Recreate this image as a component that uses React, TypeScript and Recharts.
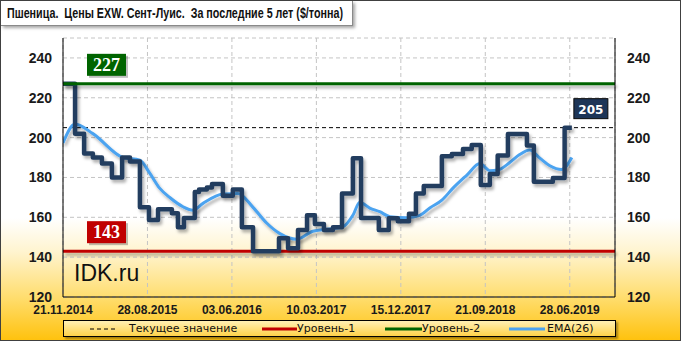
import { LineChart, Line, XAxis, YAxis, CartesianGrid, ReferenceLine, ReferenceDot } from "recharts";

// days since 21.11.2014
const xTicks = [0, 280, 560, 840, 1120, 1400, 1680];
const xLabels = ["21.11.2014", "28.08.2015", "03.06.2016", "10.03.2017", "15.12.2017", "21.09.2018", "28.06.2019"];
const yTicks = [120, 140, 160, 180, 200, 220, 240];

const priceDays = [0, 40, 70, 99, 129, 162, 196, 222, 255, 285, 315, 361, 381, 401, 437, 451, 477, 494, 530, 563, 593, 630, 716, 746, 779, 809, 835, 865, 895, 925, 961, 988, 1047, 1080, 1110, 1147, 1170, 1196, 1256, 1289, 1326, 1355, 1385, 1415, 1441, 1475, 1538, 1561, 1624, 1663, 1687];
const priceValues = [227, 202, 192, 190, 187, 180, 190, 188, 165, 158.6, 164, 162, 155, 159.6, 172.7, 174, 175, 176.7, 170.8, 174, 155, 143, 149.5, 144.5, 153.6, 161, 156.6, 153.6, 155, 172, 189.7, 159.6, 153.6, 159.5, 158, 161.8, 172, 175.7, 190.7, 191.8, 194.3, 196.3, 176.2, 181.7, 191, 201.8, 196, 177.8, 179.7, 205, 205];

const emaDays = [0, 40, 99, 199, 255, 288, 321, 355, 398, 431, 464, 530, 580, 630, 676, 719, 775, 828, 875, 928, 961, 984, 1017, 1050, 1084, 1140, 1183, 1216, 1256, 1292, 1339, 1382, 1415, 1441, 1481, 1514, 1547, 1581, 1614, 1653, 1687];
const emaValues = [197.3, 206.8, 202, 190, 188.7, 182, 174.5, 169.8, 165.3, 163.6, 167, 171.7, 172, 165, 157, 151.8, 149, 153, 154, 155.2, 161, 167.6, 164.6, 162.8, 160.3, 159.8, 161, 164.7, 168.6, 174.5, 181.2, 187, 183.4, 183.7, 187.5, 191.5, 193.8, 189.7, 185.9, 184, 190];

const current = 205;
const level1 = 143;
const level2 = 227;

const priceData = priceDays.map((d, i) => ({ d, v: priceValues[i] }));
const emaData = emaDays.map((d, i) => ({ d, v: emaValues[i] }));

const tickStyle = { fill: "#1a1a1a", fontSize: 14, fontWeight: 700, fontFamily: "Liberation Sans, Arial, sans-serif" };

const LevelBox = ({ viewBox, value, color }: any) => {
  if (!viewBox) return null;
  const x = viewBox.x + 24;
  const y = viewBox.y - 30;
  return (
    <g>
      <rect x={x + 2} y={y + 2} width={39} height={22} fill="rgba(0,0,0,0.25)" />
      <rect x={x} y={y} width={39} height={22} fill={color} />
      <text x={x + 19.5} y={y + 17} textAnchor="middle" fill="#fff" fontSize={18} fontWeight={700} fontFamily="Liberation Serif, Times New Roman, serif">
        {value}
      </text>
    </g>
  );
};

const CurrentBox = ({ cx, cy }: any) => {
  const x = cx + 2;
  const y = cy - 29;
  return (
    <g>
      <rect x={x} y={y} width={34} height={20} fill="#1d3557" stroke="#0a0a0a" strokeWidth={1} />
      <text x={x + 17} y={y + 15} textAnchor="middle" fill="#fff" fontSize={12} fontWeight={700} fontFamily="DejaVu Sans, Verdana, sans-serif">
        {current}
      </text>
    </g>
  );
};

export default function App() {
  return (
    <div
      style={{
        position: "absolute",
        left: 0,
        top: 0,
        width: 681,
        height: 341,
        boxSizing: "border-box",
        border: "1px solid #404040",
        background: "linear-gradient(to bottom, #ffffff 0%, #ffffff 64%, #fff4cf 74%, #ffdc6a 88%, #ffc20e 100%)",
        overflow: "hidden",
      }}
    >
      <div
        style={{
          position: "absolute",
          left: 0,
          top: 0,
          width: 351,
          height: 24,
          background: "#fff",
          borderRight: "1px solid #8a8a8a",
          borderBottom: "1px solid #8a8a8a",
          boxShadow: "2px 2px 3px rgba(0,0,0,0.35)",
        }}
      >
        <svg width={351} height={24} style={{ position: "absolute", left: 0, top: 0 }}>
          <text
            x={6}
            y={17}
            textLength={336}
            lengthAdjust="spacingAndGlyphs"
            fontFamily="Liberation Sans, Arial, sans-serif"
            fontWeight={700}
            fontSize={14}
            fill="#111"
            style={{ whiteSpace: "pre" }}
          >
            {"Пшеница.  Цены EXW. Сент-Луис.  За последние 5 лет ($/тонна)"}
          </text>
        </svg>
      </div>

      <div style={{ position: "absolute", left: -1, top: -1 }}>
        <LineChart width={681} height={341} margin={{ top: 38, right: 0, left: 0, bottom: 14 }}>
          <defs>
            <filter id="sh" filterUnits="userSpaceOnUse" x={0} y={0} width={681} height={341}>
              <feDropShadow dx="2" dy="3" stdDeviation="1.5" floodColor="#000" floodOpacity="0.3" />
            </filter>
          </defs>
          <CartesianGrid stroke="#c4c4c4" strokeDasharray="4 3" />
          <XAxis
            dataKey="d"
            type="number"
            domain={[0, 1830]}
            ticks={xTicks}
            tickFormatter={(v: number) => xLabels[xTicks.indexOf(v)] ?? ""}
            tick={{ ...tickStyle, fontSize: 12 }}
            tickLine={false}
            axisLine={{ stroke: "#000" }}
            tickMargin={2}
            height={30}
            allowDataOverflow
          />
          <XAxis xAxisId="top" orientation="top" type="number" domain={[0, 1830]} tick={false} tickLine={false} axisLine={{ stroke: "#000" }} height={0} />
          <YAxis
            domain={[120, 250]}
            ticks={yTicks}
            tick={tickStyle}
            tickLine={false}
            axisLine={{ stroke: "#000" }}
            tickMargin={5}
            width={63}
            allowDataOverflow
          />
          <YAxis
            yAxisId="right"
            orientation="right"
            domain={[120, 250]}
            ticks={yTicks}
            tick={{ ...tickStyle, textAnchor: "start" }}
            tickLine={false}
            axisLine={{ stroke: "#000" }}
            tickMargin={6}
            width={66}
            allowDataOverflow
          />
          <ReferenceLine y={current} stroke="#000" strokeDasharray="4 3" strokeWidth={1} />
          <ReferenceLine
            y={level1}
            stroke="#c00000"
            strokeWidth={3}
            filter="url(#sh)"
            label={(p: any) => <LevelBox {...p} value={level1} color="#c00000" />}
          />
          <Line data={emaData} dataKey="v" type="monotone" stroke="#4ba3f0" strokeWidth={3} dot={false} filter="url(#sh)" isAnimationActive={false} />
          <Line data={priceData} dataKey="v" type="stepAfter" stroke="#233c5e" strokeWidth={4.5} strokeLinejoin="round" dot={false} filter="url(#sh)" isAnimationActive={false} />
          <ReferenceLine
            y={level2}
            stroke="#006400"
            strokeWidth={3}
            filter="url(#sh)"
            label={(p: any) => <LevelBox {...p} value={level2} color="#006400" />}
          />
          <ReferenceDot x={1687} y={current} r={0} shape={(p: any) => <CurrentBox {...p} />} />
        </LineChart>
      </div>

      <div
        style={{
          position: "absolute",
          left: 73,
          top: 259,
          fontFamily: "Liberation Sans, Arial, sans-serif",
          fontSize: 23,
          color: "#111",
        }}
      >
        IDK.ru
      </div>

      <div
        style={{
          position: "absolute",
          left: 62,
          top: 319,
          width: 553,
          height: 17,
          boxSizing: "border-box",
          border: "1px solid #000",
          background: "linear-gradient(to bottom, #fff0b4, #ffd24a)",
          boxShadow: "2px 2px 2px rgba(0,0,0,0.35)",
          fontFamily: "DejaVu Sans, Verdana, sans-serif",
          fontSize: 11,
          color: "#111",
        }}
      >
        <svg width={551} height={15} style={{ position: "absolute", left: 0, top: 0 }}>
          <line x1={26} x2={52} y1={8} y2={8} stroke="#000" strokeDasharray="4 3" />
          <line x1={198} x2={233} y1={8} y2={8} stroke="#c00000" strokeWidth={3} />
          <line x1={321} x2={358} y1={8} y2={8} stroke="#006400" strokeWidth={3} />
          <line x1={445} x2={481} y1={8} y2={8} stroke="#4ba3f0" strokeWidth={3} />
        </svg>
        <span style={{ position: "absolute", left: 65, top: 0, lineHeight: "15px" }}>Текущее значение</span>
        <span style={{ position: "absolute", left: 233, top: 0, lineHeight: "15px" }}>Уровень-1</span>
        <span style={{ position: "absolute", left: 358, top: 0, lineHeight: "15px" }}>Уровень-2</span>
        <span style={{ position: "absolute", left: 483, top: 0, lineHeight: "15px" }}>EMA(26)</span>
      </div>
    </div>
  );
}
